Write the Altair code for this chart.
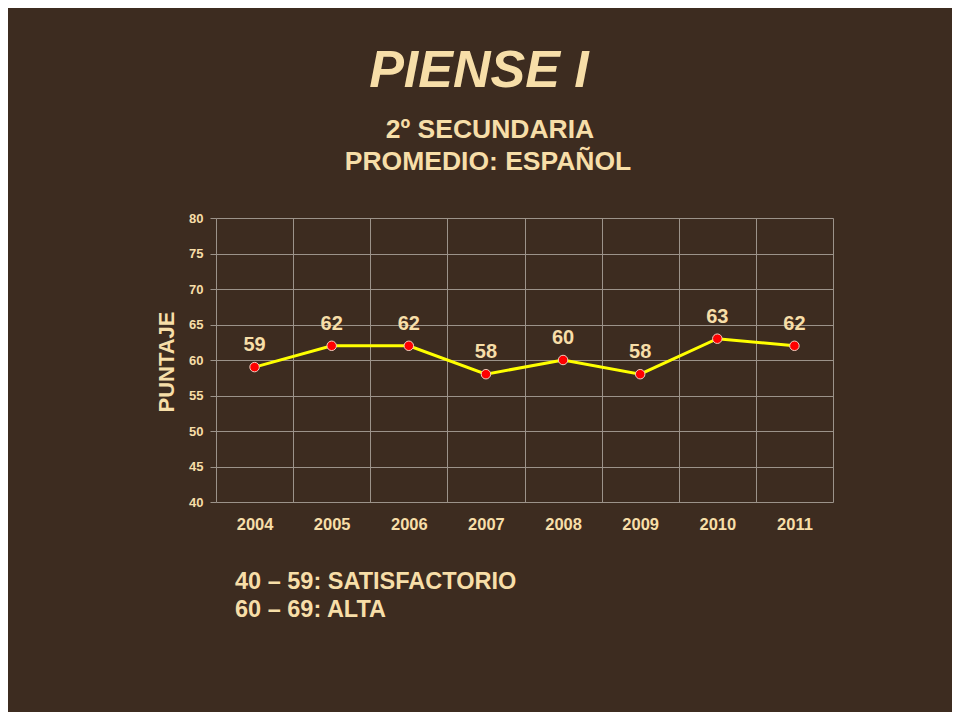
import altair as alt
import pandas as pd

years = ["2004", "2005", "2006", "2007", "2008", "2009", "2010", "2011"]
scores = [59, 62, 62, 58, 60, 58, 63, 62]
y_ticks = [40, 45, 50, 55, 60, 65, 70, 75, 80]

title_main = "PIENSE I"
subtitle_lines = ["2º SECUNDARIA", "PROMEDIO: ESPAÑOL"]
notes = ["40 – 59: SATISFACTORIO", "60 – 69: ALTA"]
y_title = "PUNTAJE"

CREAM = "#f7dea8"
BG = "#3d2c20"
GRID = "#9c938a"
FONT = "Liberation Sans"

df = pd.DataFrame({"year": years, "score": scores})

W, H = 617, 284

x = alt.X("year:O", sort=years,
          scale=alt.Scale(paddingInner=0, paddingOuter=0),
          axis=alt.Axis(title=None, labelAngle=0, labelFont=FONT, labelFontSize=16.5,
                        labelFontWeight="bold", labelColor=CREAM, labelPadding=14,
                        tickBand="extent", ticks=False, domain=False,
                        grid=True, gridColor=GRID, gridWidth=1))
y = alt.Y("score:Q",
          scale=alt.Scale(domain=[40, 80], nice=False, zero=False),
          axis=alt.Axis(title=None, values=y_ticks, labelFont=FONT, labelFontSize=13,
                        labelFontWeight="bold", labelColor=CREAM, labelPadding=7,
                        tickSize=6, tickColor=GRID, domain=False,
                        grid=True, gridColor=GRID, gridWidth=1))

base = alt.Chart(df)
line = base.mark_line(color="#ffff00", strokeWidth=3).encode(x=x, y=y)
pts = base.mark_point(filled=True, shape="circle", size=90, color="#ff0000",
                      stroke="#f0d0c0", strokeWidth=1, opacity=1).encode(x=x, y=y)
lbls = base.mark_text(font=FONT, fontSize=20, fontWeight="bold", color=CREAM,
                      dy=-22, baseline="middle").encode(x=x, y=y, text="score:Q")

one = alt.Data(values=[{"a": 1}])

def txt(s, xv, yv, size, align="center", italic=False, color=CREAM, angle=0, baseline="alphabetic"):
    kw = dict(text=s, font=FONT, fontSize=size, fontWeight="bold", color=color,
              align=align, baseline=baseline)
    if italic:
        kw["fontStyle"] = "italic"
    if angle:
        kw["angle"] = angle
    return alt.Chart(one).mark_text(**kw).encode(x=alt.value(xv), y=alt.value(yv))

texts = [
    txt(title_main, 263, -131, 52, italic=True),
    txt(subtitle_lines[0], 274, -80, 26.5),
    txt(subtitle_lines[1], 272, -48, 26.5),
    txt(notes[0], 19, 371, 23.5, align="left"),
    txt(notes[1], 19, 399, 23.5, align="left"),
    txt(y_title, -49, 144, 22, angle=270, baseline="middle"),
]

chart = alt.layer(line, pts, lbls, *texts).properties(
    width=W, height=H,
    background=BG,
    padding={"left": 208, "top": 210, "right": 944 - 208 - W, "bottom": 704 - 210 - H},
    autosize=alt.AutoSizeParams(type="none"),
).configure_view(stroke=None)

chart.save("out.html", embed_options={"renderer": "svg", "actions": False})
